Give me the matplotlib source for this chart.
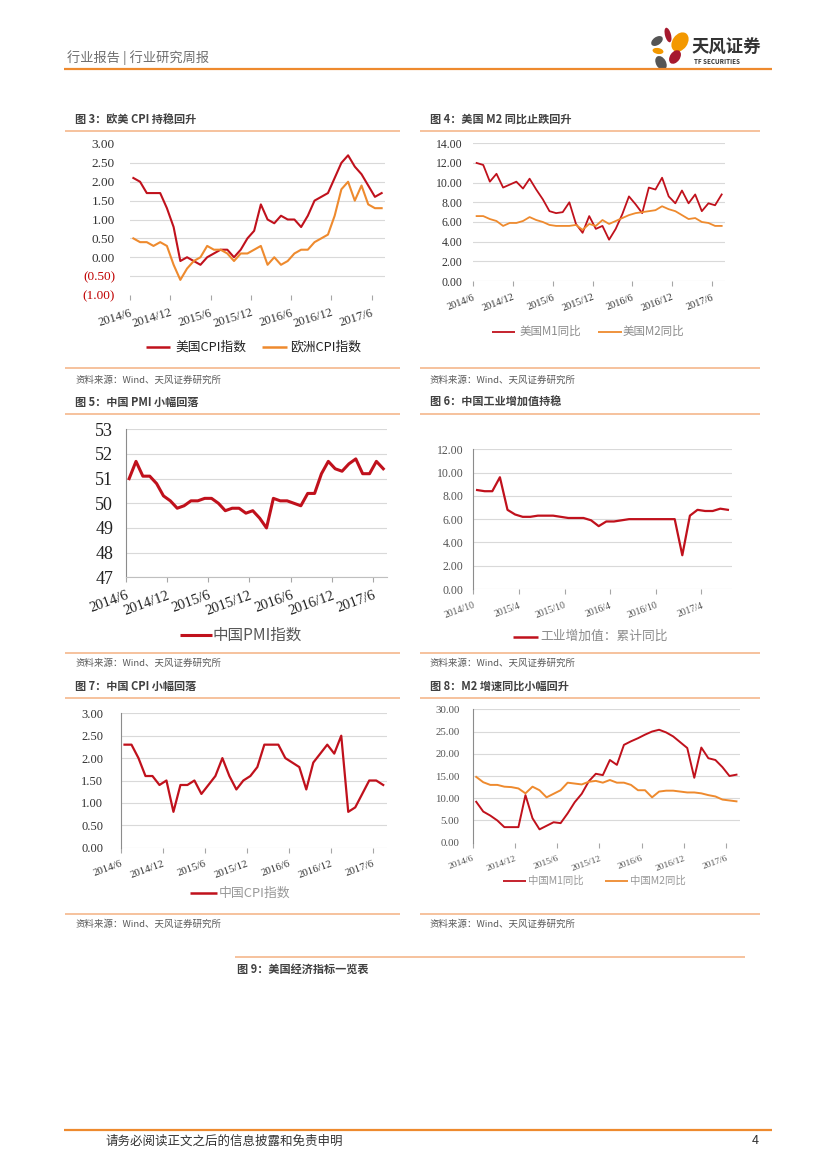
import numpy as np
import matplotlib
matplotlib.use('Agg')
import matplotlib.pyplot as plt
from matplotlib.patches import Ellipse

plt.rcParams['font.family'] = ['Noto Sans CJK SC', 'DejaVu Sans']
plt.rcParams['axes.unicode_minus'] = False

W, H = 827, 1169

# 月度标签（每6个月一个刻度）
ticks_jun = ['2014/6', '2014/12', '2015/6', '2015/12', '2016/6', '2016/12', '2017/6']
ticks_oct = ['2014/10', '2015/4', '2015/10', '2016/4', '2016/10', '2017/4']

# 图3 欧美CPI (2014/6 - 2017/7)
us_cpi = [2.1, 2.0, 1.7, 1.7, 1.7, 1.3, 0.8, -0.1, 0.0, -0.1, -0.2, 0.0, 0.1, 0.2, 0.2, 0.0,
          0.2, 0.5, 0.7, 1.4, 1.0, 0.9, 1.1, 1.0, 1.0, 0.8, 1.1, 1.5, 1.6, 1.7, 2.1, 2.5,
          2.7, 2.4, 2.2, 1.9, 1.6, 1.7]
eu_cpi = [0.5, 0.4, 0.4, 0.3, 0.4, 0.3, -0.2, -0.6, -0.3, -0.1, 0.0, 0.3, 0.2, 0.2, 0.1, -0.1,
          0.1, 0.1, 0.2, 0.3, -0.2, 0.0, -0.2, -0.1, 0.1, 0.2, 0.2, 0.4, 0.5, 0.6, 1.1, 1.8,
          2.0, 1.5, 1.9, 1.4, 1.3, 1.3]

# 图4 美国M1/M2同比
us_m1 = [12.0, 11.8, 10.1, 10.9, 9.5, 9.8, 10.1, 9.4, 10.4, 9.3, 8.3, 7.1, 6.9, 7.0, 8.0, 5.8,
         4.9, 6.6, 5.3, 5.6, 4.2, 5.3, 6.8, 8.6, 7.8, 6.9, 9.5, 9.3, 10.5, 8.6, 7.9, 9.2,
         7.9, 8.8, 7.1, 7.9, 7.7, 8.8]
us_m2 = [6.6, 6.6, 6.3, 6.1, 5.6, 5.9, 5.9, 6.1, 6.5, 6.2, 6.0, 5.7, 5.6, 5.6, 5.6, 5.7,
         5.2, 5.8, 5.6, 6.2, 5.8, 6.1, 6.4, 6.7, 6.9, 7.0, 7.1, 7.2, 7.6, 7.3, 7.1, 6.7,
         6.3, 6.4, 6.0, 5.9, 5.6, 5.6]

# 图5 中国PMI
cn_pmi = [51.0, 51.7, 51.1, 51.1, 50.8, 50.3, 50.1, 49.8, 49.9, 50.1, 50.1, 50.2, 50.2, 50.0,
          49.7, 49.8, 49.8, 49.6, 49.7, 49.4, 49.0, 50.2, 50.1, 50.1, 50.0, 49.9, 50.4, 50.4,
          51.2, 51.7, 51.4, 51.3, 51.6, 51.8, 51.2, 51.2, 51.7, 51.4]

# 图6 工业增加值累计同比 (2014/10 - 2017/7)
cn_iva = [8.5, 8.4, 8.4, 9.6, 6.8, 6.4, 6.2, 6.2, 6.3, 6.3, 6.3, 6.2, 6.1, 6.1, 6.1, 5.9,
          5.4, 5.8, 5.8, 5.9, 6.0, 6.0, 6.0, 6.0, 6.0, 6.0, 6.0, 2.9, 6.3, 6.8, 6.7, 6.7,
          6.9, 6.8]

# 图7 中国CPI
cn_cpi = [2.3, 2.3, 2.0, 1.6, 1.6, 1.4, 1.5, 0.8, 1.4, 1.4, 1.5, 1.2, 1.4, 1.6, 2.0, 1.6,
          1.3, 1.5, 1.6, 1.8, 2.3, 2.3, 2.3, 2.0, 1.9, 1.8, 1.3, 1.9, 2.1, 2.3, 2.1, 2.5,
          0.8, 0.9, 1.2, 1.5, 1.5, 1.4]

# 图8 中国M1/M2同比
cn_m1 = [9.2, 7.0, 6.1, 5.0, 3.5, 3.5, 3.5, 10.7, 5.5, 3.0, 3.8, 4.6, 4.4, 6.6, 9.1, 11.0,
         13.8, 15.5, 15.2, 18.6, 17.5, 22.0, 22.8, 23.5, 24.3, 25.0, 25.4, 24.8, 23.9, 22.6,
         21.3, 14.6, 21.4, 19.0, 18.6, 17.0, 15.0, 15.3]
cn_m2 = [14.8, 13.6, 13.0, 13.0, 12.6, 12.5, 12.2, 11.1, 12.6, 11.8, 10.2, 11.0, 11.8, 13.5,
         13.3, 13.1, 13.7, 13.9, 13.5, 14.1, 13.5, 13.5, 13.0, 11.8, 11.8, 10.2, 11.5, 11.7,
         11.7, 11.5, 11.3, 11.3, 11.1, 10.7, 10.4, 9.7, 9.5, 9.3]

RED = '#C0111C'
ORANGE = '#EE8A2E'
SEP = '#F4B183'
SERIF = ['Liberation Serif', 'DejaVu Serif']

fig = plt.figure(figsize=(W / 100, H / 100), dpi=100)
bg = fig.add_axes([0, 0, 1, 1])
bg.set_xlim(0, W)
bg.set_ylim(H, 0)
bg.axis('off')


def hline(x1, x2, y, color=SEP, lw=1.1):
    bg.plot([x1, x2], [y, y], color=color, lw=lw, solid_capstyle='butt')


def txt(x, y, s, size, color='#404040', weight='normal', ha='left'):
    bg.text(x, y, s, fontsize=size, color=color, fontweight=weight, ha=ha, va='center')


def legend_item(x1, x2, y, color, lw, label, tx, size, tcolor):
    bg.plot([x1, x2], [y, y], color=color, lw=lw, solid_capstyle='butt')
    txt(tx, y, label, size, tcolor)


def chart(box, series, lw, xlabels, ylim, yticks, ylabels, ysize, xsize, ypad,
          xrot=20, grid=None, left_spine=False, bottom_spine=False, lab_color='#333333',
          ylab_colors=None):
    l, t, r, b = box
    ax = fig.add_axes([l / W, 1 - b / H, (r - l) / W, (b - t) / H])
    ax.patch.set_alpha(0)
    n = len(series[0][0])
    x = np.arange(n)
    if grid is None:
        grid = yticks
    for g in grid:
        ax.axhline(g, color='#D9D9D9', lw=0.8, zorder=1)
    for vals, col in series:
        ax.plot(x, vals, color=col, lw=lw, zorder=3, solid_joinstyle='round')
    ax.set_xlim(-0.5, n - 0.5)
    ax.set_ylim(*ylim)
    for s in ['top', 'right']:
        ax.spines[s].set_visible(False)
    ax.spines['left'].set_visible(left_spine)
    ax.spines['bottom'].set_visible(bottom_spine)
    ax.spines['left'].set_color('#8C8C8C')
    ax.spines['bottom'].set_color('#BFBFBF')
    ax.spines['left'].set_linewidth(0.8)
    ax.spines['bottom'].set_linewidth(0.8)
    ax.set_yticks(yticks)
    ax.set_yticklabels(ylabels, fontsize=ysize, family=SERIF, color=lab_color)
    if ylab_colors is not None:
        for lab, c in zip(ax.get_yticklabels(), ylab_colors):
            lab.set_color(c)
    ax.tick_params(axis='y', length=0, pad=ypad)
    xt = [6 * k - 0.5 for k in range(len(xlabels))]
    ax.set_xticks(xt)
    ax.set_xticklabels(xlabels, fontsize=xsize, family=SERIF, color=lab_color,
                       rotation=xrot, ha='right', rotation_mode='anchor')
    ax.tick_params(axis='x', length=3.5, width=0.8, color='#A6A6A6', pad=5)
    return ax


# 页眉
txt(67, 58, '行业报告 | 行业研究周报', 9.5, '#6E6E6E')
hline(64, 772, 69, color='#EE8A2E', lw=1.6)
petals = [
    ((668, 35), 6, 15, -15, '#A6192E'),
    ((657, 41), 13, 8, -35, '#555555'),
    ((680, 42), 15, 21, 35, '#F39800'),
    ((658, 51), 11, 6, 10, '#F39800'),
    ((675, 57), 10, 15, 35, '#A6192E'),
    ((661, 63), 10, 15, -30, '#555555'),
]
for c, w, h, a, col in petals:
    bg.add_patch(Ellipse(c, w, h, angle=a, color=col, lw=0))
txt(692, 48, '天风证券', 12.5, '#333333', weight='bold')
txt(694, 62, 'TF SECURITIES', 4.5, '#333333', weight='bold')

# 版块标题与分隔线
cols = [(65, 400, 75), (420, 760, 430)]
rows = [(119, 130.7, 368, 380), (402, 414, 653.3, 663), (686, 697.7, 914, 924)]
titles = [['图 3：欧美 CPI 持稳回升', '图 4：美国 M2 同比止跌回升'],
          ['图 5：中国 PMI 小幅回落', '图 6：中国工业增加值持稳'],
          ['图 7：中国 CPI 小幅回落', '图 8：M2 增速同比小幅回升']]
for i, (ty, ly, by, sy) in enumerate(rows):
    for j, (x1, x2, tx) in enumerate(cols):
        txt(tx, ty, titles[i][j], 8, '#404040', weight='bold')
        hline(x1, x2, ly)
        hline(x1, x2, by)
        txt(tx, sy, '资料来源：Wind、天风证券研究所', 6.8, '#595959')

# 图3
y3 = [3.0, 2.5, 2.0, 1.5, 1.0, 0.5, 0.0, -0.5, -1.0]
y3_lab = ['3.00', '2.50', '2.00', '1.50', '1.00', '0.50', '0.00', '(0.50)', '(1.00)']
chart((130, 144, 385, 295), [(us_cpi, RED), (eu_cpi, ORANGE)], 1.5, ticks_jun,
      (-1.0, 3.0), y3, y3_lab, 9.5, 9, 10.8, xrot=17,
      grid=[2.5, 2.0, 1.5, 1.0, 0.5, 0.0, -0.5],
      ylab_colors=['#333333'] * 7 + ['#C00000', '#C00000'])
legend_item(146, 170, 347, RED, 1.8, '美国CPI指数', 175, 9.2, '#222222')
legend_item(262, 287, 347, ORANGE, 1.8, '欧洲CPI指数', 290, 9.2, '#222222')

# 图4
y4 = [14, 12, 10, 8, 6, 4, 2, 0]
chart((473.3, 143.3, 725, 281), [(us_m1, RED), (us_m2, ORANGE)], 1.3, ticks_jun,
      (0, 14), y4, ['%.2f' % v for v in y4], 8.5, 7.5, 7.6, xrot=21)
legend_item(491.7, 515, 331.7, RED, 1.3, '美国M1同比', 520, 8.3, '#8C8C8C')
legend_item(598, 622, 331.7, ORANGE, 1.3, '美国M2同比', 623, 8.3, '#8C8C8C')

# 图5
y5 = [53, 52, 51, 50, 49, 48, 47]
chart((125.7, 429.3, 386.7, 577.3), [(cn_pmi, RED)], 2.2, ticks_jun,
      (47, 53), y5, [str(v) for v in y5], 13, 10.5, 9, xrot=20,
      left_spine=True, bottom_spine=True, lab_color='#222222')
legend_item(180, 212, 635, RED, 2.2, '中国PMI指数', 213, 11.2, '#595959')

# 图6
y6 = [12, 10, 8, 6, 4, 2, 0]
chart((473.3, 449.3, 731.7, 589), [(cn_iva, RED)], 1.6, ticks_oct,
      (0, 12), y6, ['%.2f' % v for v in y6], 8.5, 7, 7.2, xrot=20,
      left_spine=True, lab_color='#555555')
legend_item(512.7, 538, 636.7, RED, 1.8, '工业增加值：累计同比', 540.7, 9.2, '#8C8C8C')

# 图7
y7 = [3.0, 2.5, 2.0, 1.5, 1.0, 0.5, 0.0]
chart((121, 713.3, 386.7, 847.7), [(cn_cpi, RED)], 1.6, ticks_jun,
      (0, 3), y7, ['%.2f' % v for v in y7], 9, 7.8, 12.7, xrot=20,
      left_spine=True, lab_color='#333333')
legend_item(190, 216.7, 893, RED, 1.8, '中国CPI指数', 219, 9.3, '#999999')

# 图8
y8 = [30, 25, 20, 15, 10, 5, 0]
chart((472.7, 709.3, 740, 842.7), [(cn_m1, RED), (cn_m2, ORANGE)], 1.4, ticks_jun,
      (0, 30), y8, ['%.2f' % v for v in y8], 7.8, 6.8, 9.6, xrot=20,
      grid=[30, 25, 20, 15, 10, 5], left_spine=True, lab_color='#555555')
legend_item(502.7, 526, 880.7, RED, 1.3, '中国M1同比', 528, 7.5, '#999999')
legend_item(605, 628, 880.7, ORANGE, 1.3, '中国M2同比', 630, 7.5, '#999999')

# 图9 标题
hline(235, 745, 957)
txt(237, 969, '图 9：美国经济指标一览表', 8, '#404040', weight='bold')

# 页脚
hline(64, 772, 1130, color='#EE8A2E', lw=1.6)
txt(106, 1141, '请务必阅读正文之后的信息披露和免责申明', 9, '#333333')
txt(752, 1141, '4', 9, '#333333')

fig.savefig('out.png', dpi=100)
